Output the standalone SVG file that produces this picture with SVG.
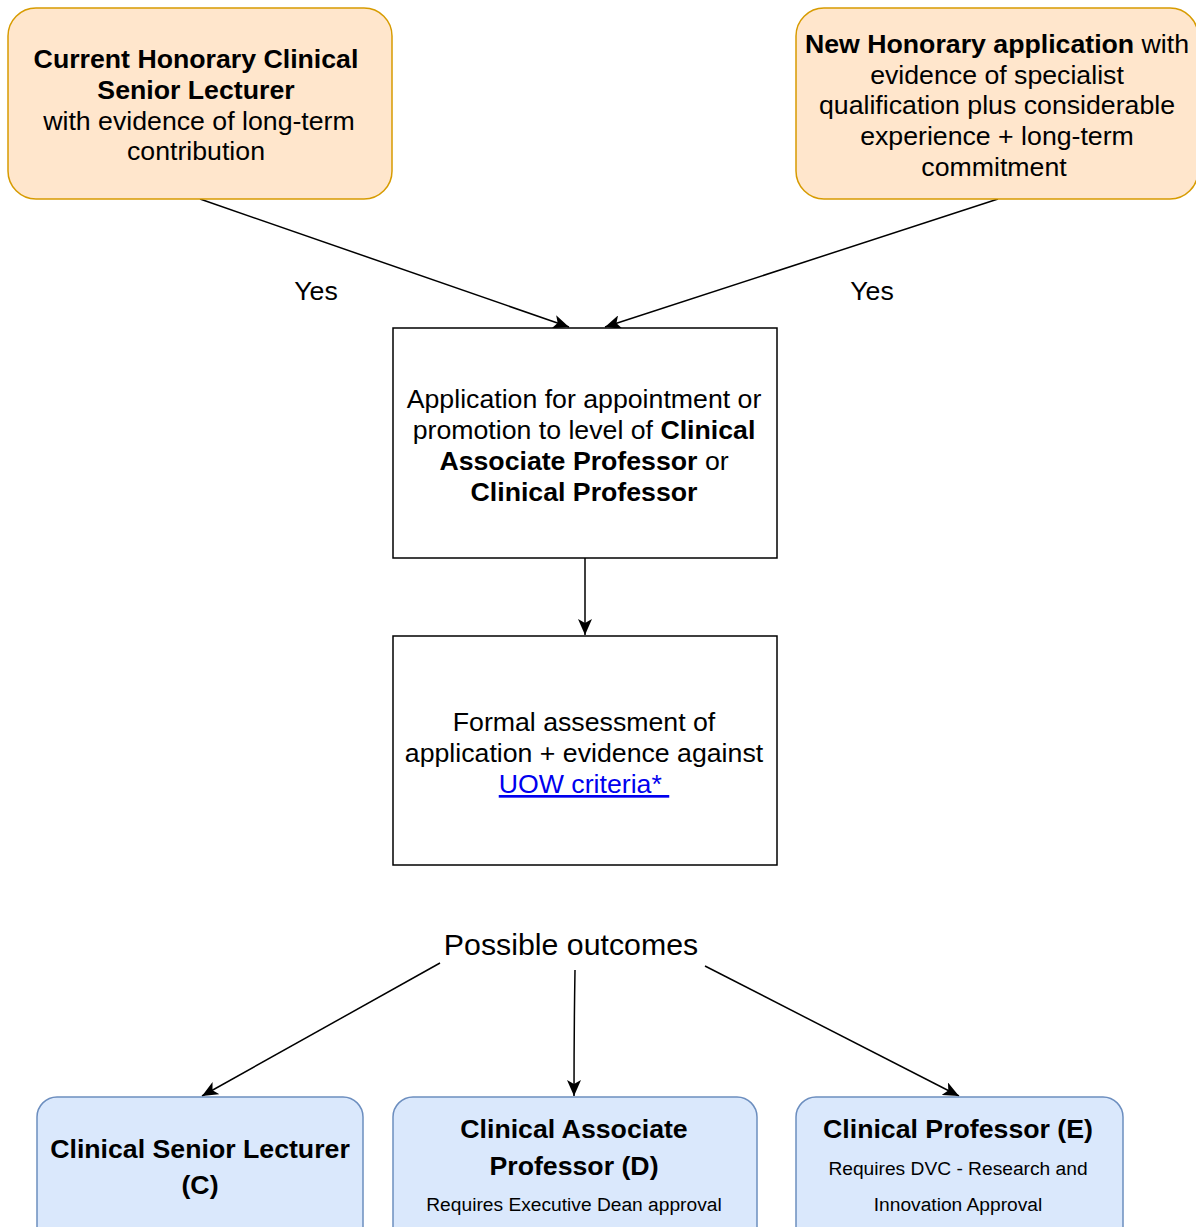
<svg xmlns="http://www.w3.org/2000/svg" width="1196" height="1227" viewBox="0 0 1196 1227">
<style>
text{font-family:"Liberation Sans",Arial,Helvetica,sans-serif;fill:#000;text-anchor:middle}
.t{font-size:26.7px}
.b{font-weight:bold}
.s{font-size:19.2px}
.orange{fill:#ffe6cc;stroke:#d79b00;stroke-width:1.5}
.blue{fill:#dae8fc;stroke:#6c8ebf;stroke-width:1.5}
.plain{fill:#fff;stroke:#000;stroke-width:1.5}
.edge{fill:none;stroke:#000;stroke-width:1.5;marker-end:url(#arr)}
</style>
<defs>
<marker id="arr" markerUnits="userSpaceOnUse" markerWidth="18" markerHeight="14" refX="16" refY="7" orient="auto">
<path d="M0,0 L16,7 L0,14 L4,7 Z" fill="#000"/>
</marker>
</defs>
<rect width="1196" height="1227" fill="#fff"/>
<g id="connectors">
<line class="edge" x1="200" y1="199" x2="569" y2="327"/>
<line class="edge" x1="998" y1="199" x2="605" y2="327"/>
<line class="edge" x1="585" y1="558" x2="585" y2="635"/>
<line class="edge" x1="440" y1="963" x2="202" y2="1096"/>
<path class="edge" d="M575,970 Q574,1030 574,1096"/>
<line class="edge" x1="705" y1="966" x2="959" y2="1096"/>
<text class="t" x="316" y="300">Yes</text>
<text class="t" x="872" y="300">Yes</text>
</g>
<g id="node-current">
<rect class="orange" x="8" y="8" width="384" height="191" rx="28"/>
<text class="t b" x="196" y="68">Current Honorary Clinical</text>
<text class="t b" x="196" y="99">Senior Lecturer</text>
<text class="t" x="199" y="130">with evidence of long-term</text>
<text class="t" x="196" y="160">contribution</text>
</g>
<g id="node-new">
<rect class="orange" x="796" y="8" width="402" height="191" rx="28"/>
<text class="t" x="997" y="53"><tspan class="b">New Honorary application</tspan> with</text>
<text class="t" x="997" y="84">evidence of specialist</text>
<text class="t" x="997" y="114">qualification plus considerable</text>
<text class="t" x="997" y="145">experience + long-term</text>
<text class="t" x="994" y="176">commitment</text>
</g>
<g id="node-application">
<rect class="plain" x="393" y="328" width="384" height="230"/>
<text class="t" x="584" y="408">Application for appointment or</text>
<text class="t" x="584" y="439">promotion to level of <tspan class="b">Clinical</tspan></text>
<text class="t" x="584" y="470"><tspan class="b">Associate Professor</tspan> or</text>
<text class="t b" x="584" y="501">Clinical Professor</text>
</g>
<g id="node-assessment">
<rect class="plain" x="393" y="636" width="384" height="229"/>
<text class="t" x="584" y="731">Formal assessment of</text>
<text class="t" x="584" y="762">application + evidence against</text>
<text class="t" x="584" y="793" style="fill:#0000ee;text-decoration:underline">UOW criteria*&#160;</text>
</g>
<g id="node-outcomes">
<text x="571" y="955" style="font-size:30.3px">Possible outcomes</text>
</g>
<g id="node-c">
<rect class="blue" x="37" y="1097" width="326" height="150" rx="20"/>
<text class="t b" x="200" y="1158">Clinical Senior Lecturer</text>
<text class="t b" x="200" y="1194">(C)</text>
</g>
<g id="node-d">
<rect class="blue" x="393" y="1097" width="364" height="150" rx="20"/>
<text class="t b" x="574" y="1138">Clinical Associate</text>
<text class="t b" x="574" y="1175">Professor (D)</text>
<text class="s" x="574" y="1211">Requires Executive Dean approval</text>
</g>
<g id="node-e">
<rect class="blue" x="796" y="1097" width="327" height="150" rx="20"/>
<text class="t b" x="958" y="1138">Clinical Professor (E)</text>
<text class="s" x="958" y="1175">Requires DVC - Research and</text>
<text class="s" x="958" y="1211">Innovation Approval</text>
</g>
</svg>
